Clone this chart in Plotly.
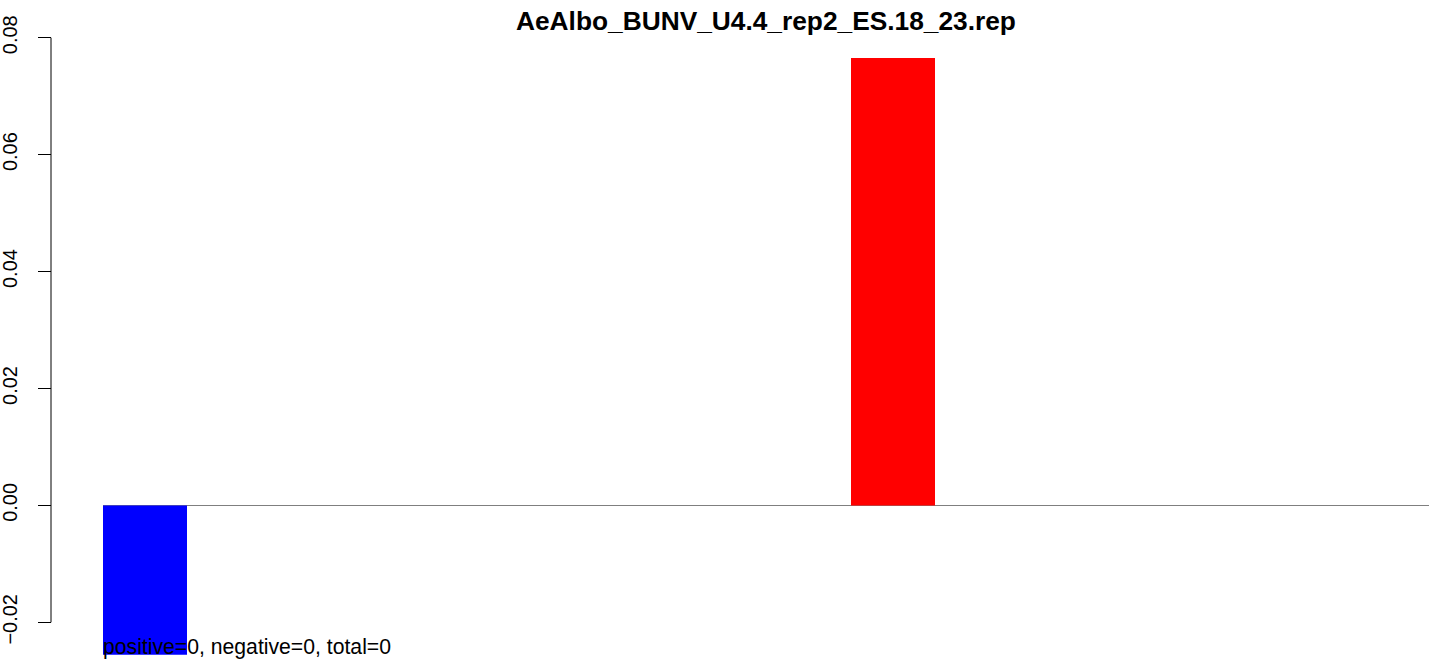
import plotly.graph_objects as go

# Data
bar_positions = [0, 8]
bar_values = [-0.02554, 0.07653]
bar_colors = ["#0000ff", "#ff0000"]
tick_vals = [-0.02, 0.0, 0.02, 0.04, 0.06, 0.08]
tick_text = ["\u22120.02", "0.00", "0.02", "0.04", "0.06", "0.08"]
title_text = "AeAlbo_BUNV_U4.4_rep2_ES.18_23.rep"
footer_text = "positive=0, negative=0, total=0"

W, H = 1429, 661
ml, mr, mt, mb = 51, 0, 30, 0
plot_left_px = 103
x_domain_start = (plot_left_px - ml) / (W - ml - mr)

unit_px = 93.5
x0 = -42 / unit_px
x1 = x0 + (W - plot_left_px) / unit_px

per_unit = 5846.0
zero_px = 505.4
ymax = (zero_px - mt) / per_unit
ymin = -(H - zero_px) / per_unit

fig = go.Figure()
fig.add_trace(go.Bar(
    x=bar_positions, y=bar_values, width=84 / unit_px,
    marker=dict(color=bar_colors, line=dict(width=0)),
    showlegend=False, hoverinfo="skip",
))

fig.update_layout(
    width=W, height=H,
    margin=dict(l=ml, r=mr, t=mt, b=mb),
    paper_bgcolor="white", plot_bgcolor="white",
    font=dict(family="Liberation Sans, Arial, sans-serif", color="black"),
    xaxis=dict(domain=[x_domain_start, 1], range=[x0, x1], visible=False),
    yaxis=dict(
        range=[ymin, ymax], anchor="free", position=0,
        showline=False, showgrid=False,
        zeroline=True, zerolinecolor="#7f7f7f", zerolinewidth=1,
        ticks="outside", ticklen=13, tickwidth=1, tickcolor="black",
        tickvals=tick_vals, ticktext=tick_text, tickangle=-90,
        tickfont=dict(size=20, color="black"),
        ticklabelstandoff=13,
    ),
    shapes=[dict(type="line", xref="paper", yref="y", x0=0, x1=0,
                 y0=tick_vals[0], y1=tick_vals[-1],
                 line=dict(color="black", width=1))],
    annotations=[
        dict(text="<b>" + title_text + "</b>", xref="paper", yref="paper",
             x=(x_domain_start + 1) / 2, y=1 + (mt - 21) / (H - mt - mb),
             xanchor="center", yanchor="middle", showarrow=False,
             font=dict(size=26.3, color="black")),
        dict(text=footer_text, xref="paper", yref="paper",
             x=x_domain_start, y=(H - 647) / (H - mt - mb),
             xanchor="left", yanchor="middle", showarrow=False,
             font=dict(size=21.2, color="black"), xshift=-2),
    ],
)

fig.write_html("out.html",
               config={"displayModeBar": False},
               post_script="document.body.style.margin='0';document.body.style.overflow='hidden';")
